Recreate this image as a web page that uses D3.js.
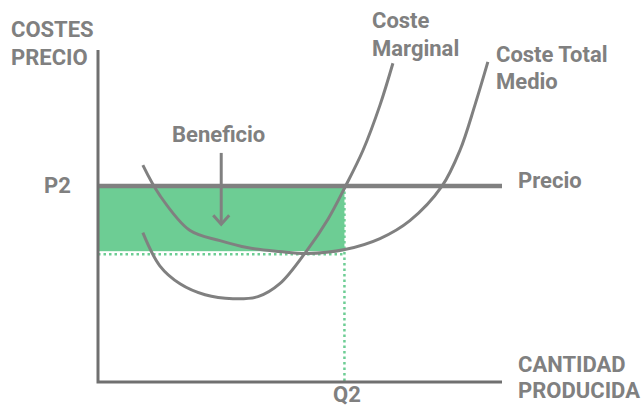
<!DOCTYPE html>
<html>
<head>
<meta charset="utf-8">
<script src="https://cdn.jsdelivr.net/npm/d3@7"></script>
<style>
  body { margin: 0; background: #fff; }
  text { font-family: Roboto, "Noto Sans", sans-serif; font-weight: 700; fill: #808080; }
</style>
</head>
<body>
<div id="chart"></div>
<script>
// curve values (quantity 0-100, cost 0-100)
var mcQ    = [11.1, 15.3, 20.3, 26.5, 33.4, 39.6, 45.0, 51.7, 57.0, 61.1, 65.6, 69.8, 73.0];
var mcCost = [45.0, 35.0, 29.6, 26.3, 25.1, 25.7, 29.6, 39.6, 49.2, 58.6, 69.8, 83.4, 96.0];

var atcQ    = [11.1, 15.3, 22.8, 30.2, 36.9, 45.0, 51.7, 61.1, 69.8, 77.2, 85.1, 89.6, 93.3, 96.5];
var atcCost = [65.3, 56.2, 45.6, 42.6, 40.5, 39.3, 38.7, 39.9, 43.2, 48.6, 58.9, 69.8, 83.4, 96.4];

var price = 59;      // P2
var q2 = 61;         // Q2
var atcAtQ2 = 39.4;  // average cost at Q2
var arrowQ = 30.5, arrowTop = 69, arrowBottom = 47.5;

var width = 642, height = 407;
var margin = {top: 50, right: 140, bottom: 25, left: 98};

var svg = d3.select("#chart").append("svg")
    .attr("width", width)
    .attr("height", height);

var x = d3.scaleLinear().domain([0, 100]).range([margin.left, width - margin.right]);
var y = d3.scaleLinear().domain([0, 100]).range([height - margin.bottom, margin.top]);

var gray = "#808080", green = "#6dcd94";

// profit rectangle
svg.append("rect")
    .attr("x", x(0) + 1)
    .attr("y", y(price))
    .attr("width", x(q2) - x(0) - 1)
    .attr("height", y(atcAtQ2) - y(price))
    .attr("fill", green);

// dotted guides
svg.append("line")
    .attr("x1", x(0)).attr("x2", x(q2))
    .attr("y1", y(atcAtQ2) + 3).attr("y2", y(atcAtQ2) + 3)
    .attr("stroke", green).attr("stroke-width", 2.5)
    .attr("stroke-dasharray", "2.5,3");

svg.append("line")
    .attr("x1", x(q2)).attr("x2", x(q2))
    .attr("y1", y(price)).attr("y2", y(0))
    .attr("stroke", green).attr("stroke-width", 2.5)
    .attr("stroke-dasharray", "2.5,3");

// price line
svg.append("line")
    .attr("x1", x(0)).attr("x2", x(100))
    .attr("y1", y(price)).attr("y2", y(price))
    .attr("stroke", gray).attr("stroke-width", 4.5);

// axes
svg.append("path")
    .attr("d", "M" + x(0) + "," + y(100) + "V" + y(0) + "H" + x(100))
    .attr("fill", "none")
    .attr("stroke", "#707070")
    .attr("stroke-width", 3)
    .attr("stroke-linejoin", "miter");

// curves
var line = d3.line()
    .x(function(d) { return x(d[0]); })
    .y(function(d) { return y(d[1]); })
    .curve(d3.curveCatmullRom);

svg.append("path")
    .datum(d3.zip(mcQ, mcCost))
    .attr("d", line)
    .attr("fill", "none").attr("stroke", gray).attr("stroke-width", 3);

svg.append("path")
    .datum(d3.zip(atcQ, atcCost))
    .attr("d", line)
    .attr("fill", "none").attr("stroke", gray).attr("stroke-width", 3);

// Beneficio arrow
svg.append("line")
    .attr("x1", x(arrowQ)).attr("x2", x(arrowQ))
    .attr("y1", y(arrowTop)).attr("y2", y(arrowBottom))
    .attr("stroke", gray).attr("stroke-width", 3);

svg.append("path")
    .attr("d", "M" + (x(arrowQ) - 8) + "," + (y(arrowBottom) - 9) +
               "L" + x(arrowQ) + "," + y(arrowBottom) +
               "L" + (x(arrowQ) + 8) + "," + (y(arrowBottom) - 9))
    .attr("fill", "none").attr("stroke", gray).attr("stroke-width", 3);

// labels
function label(tx, ty, lines, size, gap) {
  var t = svg.append("text")
      .attr("x", tx).attr("y", ty)
      .style("font-size", size + "px");
  lines.forEach(function(s, i) {
    t.append("tspan").attr("x", tx).attr("dy", i ? gap : 0).text(s);
  });
}

label(11, 37, ["COSTES", "PRECIO"], 22, 28);
label(372, 28, ["Coste", "Marginal"], 22, 28);
label(496, 62, ["Coste Total", "Medio"], 22, 27);
label(172, 142, ["Beneficio"], 22);
label(44, 193, ["P2"], 22);
label(518, 188, ["Precio"], 22);
label(333, 402, ["Q2"], 22);
label(518, 372, ["CANTIDAD", "PRODUCIDA"], 22, 26);
</script>
</body>
</html>
